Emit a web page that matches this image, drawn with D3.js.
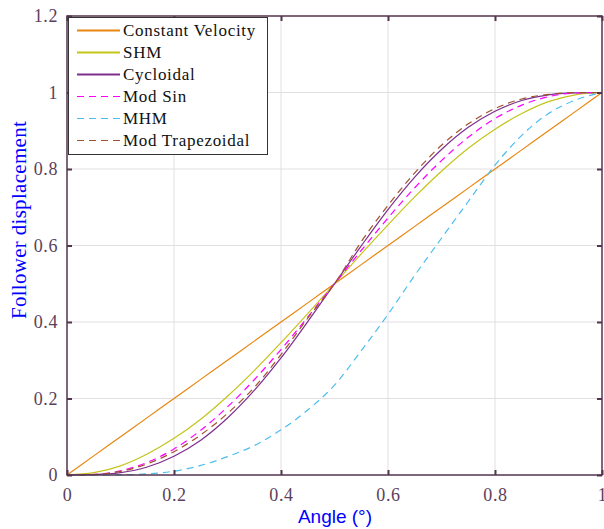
<!DOCTYPE html>
<html>
<head>
<meta charset="utf-8">
<style>
  body { margin: 0; background: #fff; }
  svg { display: block; }
</style>
</head>
<body>
<svg id="chart" width="604" height="529"></svg>

<script src="https://d3js.org/d3.v7.min.js"></script>
<script>
    // angle samples (normalised) and the displacement read for each law
    var angle = [0, 0.05, 0.1, 0.15, 0.2, 0.25, 0.3, 0.35, 0.4, 0.45, 0.5,
                 0.55, 0.6, 0.65, 0.7, 0.75, 0.8, 0.85, 0.9, 0.95, 1]

    var constVel = [0, 0.05, 0.1, 0.15, 0.2, 0.25, 0.3, 0.35, 0.4, 0.45, 0.5,
                    0.55, 0.6, 0.65, 0.7, 0.75, 0.8, 0.85, 0.9, 0.95, 1]
    var shm = [0, 0.006, 0.024, 0.055, 0.096, 0.146, 0.206, 0.273, 0.346, 0.422, 0.5,
               0.578, 0.654, 0.727, 0.794, 0.854, 0.904, 0.945, 0.976, 0.994, 1]
    var cycloidal = [0, 0.001, 0.006, 0.021, 0.049, 0.091, 0.149, 0.221, 0.306, 0.401, 0.5,
                     0.599, 0.694, 0.779, 0.851, 0.909, 0.951, 0.979, 0.994, 0.999, 1]
    var modSin = [0, 0.0014, 0.011, 0.033, 0.068, 0.117, 0.178, 0.249, 0.328, 0.413, 0.5,
                  0.587, 0.672, 0.751, 0.822, 0.883, 0.932, 0.967, 0.989, 0.9986, 1]
    var mhm = [0, 0, 0.0005, 0.003, 0.01, 0.025, 0.048, 0.077, 0.118, 0.17, 0.235,
               0.325, 0.42, 0.522, 0.619, 0.715, 0.81, 0.888, 0.945, 0.98, 1]
    var modTrap = [0, 0.0013, 0.0095, 0.029, 0.061, 0.105, 0.161, 0.229, 0.315, 0.41, 0.5,
                   0.61, 0.705, 0.79, 0.862, 0.918, 0.958, 0.983, 0.995, 0.9995, 1]

    var seriesNames = ["Constant Velocity", "SHM", "Cycloidal", "Mod Sin", "MHM", "Mod Trapezoidal"]
    var seriesValues = [constVel, shm, cycloidal, modSin, mhm, modTrap]
    var seriesColors = ["#e8860f", "#c4c41a", "#7e2f8e", "#ff00ff", "#4dbeee", "#a0522d"]
    var seriesDash = [null, null, null, "7,5", "7,5", "7,5"]

    var xTicks = [0, 0.2, 0.4, 0.6, 0.8, 1]
    var yTicks = [0, 0.2, 0.4, 0.6, 0.8, 1, 1.2]

    var svg = d3.select("#chart")
    var axisColor = "#53344f",
        textColor = "#5b3f5b",
        serif = "'Liberation Serif', 'DejaVu Serif', serif"

    var x = d3.scaleLinear().domain([0, 1]).range([67, 602])
    var y = d3.scaleLinear().domain([0, 1.2]).range([475, 16])

    // grid
    var grid = svg.append("g")
    grid.selectAll(".gx")
        .data(xTicks.slice(1, -1))
        .enter().append("line")
        .attr("x1", function(d) { return x(d) })
        .attr("x2", function(d) { return x(d) })
        .attr("y1", y(0)).attr("y2", y(1.2))
        .attr("stroke", "#e2dee2").attr("stroke-width", 1)
    grid.selectAll(".gy")
        .data(yTicks.slice(1, -1))
        .enter().append("line")
        .attr("y1", function(d) { return y(d) })
        .attr("y2", function(d) { return y(d) })
        .attr("x1", x(0)).attr("x2", x(1))
        .attr("stroke", "#e2dee2").attr("stroke-width", 1)

    // curves
    var line = d3.line()
        .x(function(d, i) { return x(angle[i]) })
        .y(function(d) { return y(d) })
        .curve(d3.curveMonotoneX)

    svg.append("g").selectAll("path")
        .data(seriesValues)
        .enter().append("path")
        .attr("d", line)
        .attr("fill", "none")
        .attr("stroke", function(d, i) { return seriesColors[i] })
        .attr("stroke-width", 1.2)
        .attr("stroke-dasharray", function(d, i) { return seriesDash[i] })

    // axes (box with inward ticks)
    function styleAxis(g) {
        g.select(".domain").remove()
        g.selectAll(".tick line").attr("stroke", axisColor).attr("stroke-width", 2)
        g.selectAll(".tick text").attr("fill", textColor)
            .attr("font-family", serif).attr("font-size", 18)
            .attr("letter-spacing", 0.6)
    }
    var fmt = function(d) { return d3.format("~g")(d) }

    svg.append("g").attr("transform", "translate(0," + y(0) + ")")
        .call(d3.axisBottom(x).tickValues(xTicks).tickFormat(fmt).tickSize(-5).tickPadding(13))
        .call(styleAxis)
    svg.append("g").attr("transform", "translate(0," + y(1.2) + ")")
        .call(d3.axisTop(x).tickValues(xTicks).tickFormat("").tickSize(-5))
        .call(styleAxis)
    svg.append("g").attr("transform", "translate(" + x(0) + ",0)")
        .call(d3.axisLeft(y).tickValues(yTicks).tickFormat(fmt).tickSize(-5).tickPadding(9))
        .call(styleAxis)
    svg.append("g").attr("transform", "translate(" + x(1) + ",0)")
        .call(d3.axisRight(y).tickValues(yTicks).tickFormat("").tickSize(-5))
        .call(styleAxis)

    svg.append("rect")
        .attr("x", x(0)).attr("y", y(1.2))
        .attr("width", x(1) - x(0)).attr("height", y(0) - y(1.2))
        .attr("fill", "none").attr("stroke", axisColor).attr("stroke-width", 1.5)

    // axis titles
    svg.append("text")
        .attr("x", 335).attr("y", 523)
        .attr("text-anchor", "middle")
        .attr("font-family", "'Liberation Sans', Arial, sans-serif")
        .attr("font-size", 19).attr("fill", "#0000ff")
        .text("Angle (°)")
    svg.append("text")
        .attr("transform", "translate(26,220) rotate(-90)")
        .attr("text-anchor", "middle")
        .attr("font-family", serif)
        .attr("font-size", 21).attr("fill", "#0000ff")
        .attr("letter-spacing", 0.3)
        .text("Follower displacement")

    // legend
    var legend = svg.append("g")
    legend.append("rect")
        .attr("x", 68.5).attr("y", 17.5).attr("width", 199).attr("height", 137)
        .attr("fill", "#fff").attr("stroke", "#333").attr("stroke-width", 1)
    var item = legend.selectAll(".item")
        .data(seriesNames)
        .enter().append("g")
        .attr("transform", function(d, i) { return "translate(0," + (30.5 + i * 22) + ")" })
    item.append("line")
        .attr("x1", 77).attr("x2", 120)
        .attr("stroke", function(d, i) { return seriesColors[i] })
        .attr("stroke-width", function(d, i) { return seriesDash[i] ? 1.2 : 2 })
        .attr("stroke-dasharray", function(d, i) { return seriesDash[i] })
    item.append("text")
        .attr("x", 123).attr("y", 5.5)
        .attr("font-family", serif).attr("font-size", 17).attr("fill", "#111")
        .attr("letter-spacing", 0.7)
        .text(function(d) { return d })
</script>
</body>
</html>
